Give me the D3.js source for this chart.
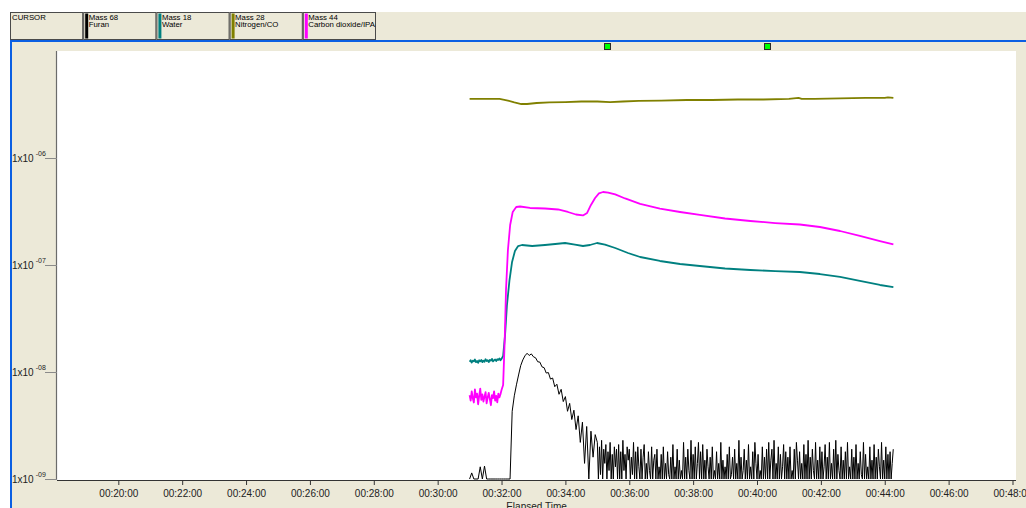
<!DOCTYPE html>
<html>
<head>
<meta charset="utf-8">
<script src="https://cdn.jsdelivr.net/npm/d3@7"></script>
<style>
  html, body { margin: 0; padding: 0; background: #ffffff; }
  svg { display: block; }
</style>
</head>
<body>
<svg id="chart" width="1026" height="508"></svg>
<script>
// ---- Legend / channels ----
const channelMasses = ["Mass 68", "Mass 18", "Mass 28", "Mass 44"];
const channelNames  = ["Furan", "Water", "Nitrogen/CO", "Carbon dioxide/IPA"];
const channelColors = ["#000000", "#008080", "#808000", "#ff00ff"];

// ---- Axes ----
const xTickMinutes = [20, 22, 24, 26, 28, 30, 32, 34, 36, 38, 40, 42, 44, 46, 48];
const xTickLabels  = ["00:20:00", "00:22:00", "00:24:00", "00:26:00", "00:28:00", "00:30:00", "00:32:00",
                      "00:34:00", "00:36:00", "00:38:00", "00:40:00", "00:42:00", "00:44:00", "00:46:00", "00:48:00"];
const yTickValues    = [1e-9, 1e-8, 1e-7, 1e-6];
const yTickExponents = ["-09", "-08", "-07", "-06"];

// cursor markers (elapsed minutes)
const cursorMinutes = [35.31, 40.31];

// ---- Mass 28, Nitrogen/CO (elapsed minutes, pressure) ----
const n2Minutes = [31.00, 31.50, 31.94, 32.20, 32.40, 32.62, 32.80, 33.10, 33.50, 34.00, 34.50, 35.00, 35.40,
                   35.80, 36.30, 37.00, 37.80, 38.60, 39.40, 40.20, 41.00, 41.30, 41.40, 41.80, 42.60, 43.40,
                   44.00, 44.10, 44.27];
const n2Values  = [3.59e-6, 3.59e-6, 3.59e-6, 3.47e-6, 3.33e-6, 3.22e-6, 3.22e-6, 3.29e-6, 3.33e-6, 3.36e-6,
                   3.40e-6, 3.40e-6, 3.36e-6, 3.40e-6, 3.44e-6, 3.47e-6, 3.51e-6, 3.51e-6, 3.55e-6, 3.55e-6,
                   3.59e-6, 3.67e-6, 3.59e-6, 3.59e-6, 3.63e-6, 3.67e-6, 3.67e-6, 3.71e-6, 3.67e-6];

// ---- Mass 18, Water ----
// baseline scans every 2 s from 31:00 (units of 1e-9)
const waterBaseStart = 31.00;
const waterBaseStepSec = 2;
const waterBaseE9 = [12.5, 12.9, 12.3, 12.8, 12.6, 13.1, 12.4, 12.7, 12.2, 12.9, 12.6, 13.0, 12.4, 12.8, 12.5,
                     13.2, 12.7, 12.9, 12.4, 13.0, 12.8, 13.3, 12.6, 12.9, 13.1, 12.7, 13.2, 13.0, 13.4, 12.9, 13.3];
const waterMinutes = [32.05, 32.11, 32.17, 32.25, 32.33, 32.42, 32.52, 32.64, 32.96, 33.36, 33.68, 33.99, 34.30,
                      34.55, 34.77, 34.99, 35.24, 35.56, 35.96, 36.34, 36.96, 37.59, 38.21, 39.00, 39.79, 40.57,
                      41.34, 41.97, 42.60, 43.22, 43.85, 44.27];
const waterValues  = [1.415e-8, 2.22e-8, 4.24e-8, 7.27e-8, 1.072e-7, 1.358e-7, 1.512e-7, 1.545e-7, 1.512e-7,
                      1.545e-7, 1.579e-7, 1.613e-7, 1.56e-7, 1.512e-7, 1.545e-7, 1.613e-7, 1.56e-7, 1.448e-7,
                      1.30e-7, 1.193e-7, 1.095e-7, 1.026e-7, 9.83e-8, 9.31e-8, 9.02e-8, 8.82e-8, 8.64e-8,
                      8.27e-8, 7.76e-8, 7.12e-8, 6.53e-8, 6.25e-8];

// ---- Mass 44, Carbon dioxide/IPA ----
const co2BaseStart = 31.00;
const co2BaseStepSec = 2;
const co2BaseE9 = [6.1, 5.4, 6.6, 5.7, 5.2, 6.9, 5.8, 6.3, 5.0, 6.0, 7.0, 5.5, 6.2, 5.3, 5.9, 6.5, 5.1, 5.8,
                   6.4, 5.6, 4.9, 6.1, 5.7, 6.6, 5.4, 6.0, 5.2, 6.3, 5.8, 6.2, 6.8];
const co2Minutes = [32.05, 32.10, 32.14, 32.20, 32.27, 32.35, 32.46, 32.58, 32.89, 33.36, 33.77, 34.08, 34.33,
                    34.55, 34.68, 34.80, 34.93, 35.05, 35.18, 35.34, 35.56, 35.87, 36.34, 36.96, 37.59, 38.21,
                    39.00, 39.79, 40.57, 41.34, 41.97, 42.60, 43.22, 43.85, 44.27];
const co2Values  = [7.57e-9, 2.0e-8, 5.86e-8, 1.387e-7, 2.377e-7, 3.146e-7, 3.503e-7, 3.54e-7, 3.43e-7,
                    3.39e-7, 3.32e-7, 3.146e-7, 2.98e-7, 2.92e-7, 3.08e-7, 3.66e-7, 4.25e-7, 4.69e-7, 4.84e-7,
                    4.78e-7, 4.59e-7, 4.21e-7, 3.74e-7, 3.39e-7, 3.146e-7, 2.95e-7, 2.735e-7, 2.59e-7, 2.48e-7,
                    2.403e-7, 2.277e-7, 2.089e-7, 1.876e-7, 1.684e-7, 1.562e-7];

// ---- Mass 68, Furan (units of 1e-9; readings below 1 fall under the axis range) ----
// first part: scans every 4 s from 31:00
const furanHeadStart = 31.00;
const furanHeadStepSec = 4;
const furanHeadE9 = [
  0.8, 1.14, 0.8, 0.8, 0.8, 1.30, 0.8, 1.32, 0.8, 0.8,
  0.8, 0.8, 0.8, 0.8, 0.8, 0.8, 0.8, 0.8, 0.8, 0.8,
  4.3, 6.0, 7.6, 9.4, 11.5, 13.0, 14.2, 15.0, 14.3, 14.8,
  13.9, 13.6, 12.5, 12.4, 11.2, 11.0, 9.8, 9.9, 8.6, 8.8,
  7.3, 7.7, 6.2, 6.9, 5.3, 5.9, 4.3, 5.1, 3.6, 4.4,
  2.9, 3.9, 2.2, 3.4, 1.4, 3.1, 0.9, 2.8, 1.6, 2.6
];
// noise tail: scans every 2 s from 35:00
const furanTailStart = 35.00;
const furanTailStepSec = 2;
const furanTailE9 = [
  2.2, 0.8, 2.0, 1.1, 2.3, 0.8, 1.9, 1.4, 2.1, 0.8, 1.8, 1.2, 2.2, 0.9, 1.7, 0.8, 2.0, 1.3, 1.9, 0.8,
  2.1, 1.0, 1.8, 0.8, 2.3, 1.2, 1.7, 0.8, 2.0, 1.5, 1.9, 0.8, 1.6, 1.1, 2.2, 0.8, 1.8, 0.9, 2.0, 1.3,
  0.8, 1.9, 0.8, 1.6, 2.1, 0.8, 1.4, 0.8, 1.8, 1.2, 0.8, 2.0, 0.8, 1.5, 1.7, 0.8, 1.9, 0.8, 1.3, 0.8,
  1.7, 0.8, 2.0, 0.8, 1.4, 0.8, 1.8, 1.1, 0.8, 1.6, 0.8, 2.1, 0.8, 1.3, 0.8, 1.9, 0.8, 1.5, 0.8, 1.2,
  0.8, 2.2, 0.8, 1.6, 0.8, 1.9, 1.2, 0.8, 2.3, 0.8, 1.7, 0.8, 2.0, 0.8, 1.4, 2.2, 0.8, 1.8, 0.8, 2.1,
  0.8, 1.5, 0.8, 1.9, 1.3, 0.8, 1.6, 0.8, 2.0, 0.8, 1.2, 0.8, 1.8, 0.8, 1.4, 0.8, 2.2, 0.8, 1.5, 0.8,
  1.3, 0.8, 1.7, 0.8, 2.0, 0.8, 1.1, 1.6, 0.8, 1.9, 0.8, 1.4, 0.8, 2.3, 0.8, 1.6, 0.8, 1.2, 1.9, 0.8,
  1.5, 0.8, 2.1, 0.8, 1.3, 0.8, 1.8, 0.8, 2.2, 1.4, 0.8, 1.7, 0.8, 1.2, 0.8, 2.0, 0.8, 1.6, 0.8, 1.9,
  0.8, 2.2, 0.8, 1.5, 1.9, 0.8, 2.3, 0.8, 1.4, 0.8, 2.0, 0.8, 1.7, 0.8, 1.3, 2.1, 0.8, 1.8, 0.8, 1.6,
  0.8, 2.0, 0.8, 1.2, 0.8, 1.9, 0.8, 2.2, 1.5, 0.8, 1.8, 0.8, 1.4, 0.8, 2.1, 0.8, 1.7, 0.8, 2.3, 0.8,
  1.6, 0.8, 1.9, 1.2, 0.8, 2.2, 0.8, 1.5, 0.8, 2.0, 0.8, 1.8, 0.8, 1.3, 2.1, 0.8, 1.6, 0.8, 2.2, 0.8,
  1.4, 0.8, 1.9, 0.8, 2.3, 0.8, 1.7, 1.2, 0.8, 2.0, 0.8, 1.5, 0.8, 1.8, 0.8, 2.2, 0.8, 1.3, 0.8, 1.9,
  0.8, 1.6, 0.8, 2.1, 0.8, 1.4, 0.8, 1.8, 1.1, 0.8, 2.2, 0.8, 1.7, 0.8, 1.3, 0.8, 2.0, 0.8, 1.5, 0.8,
  2.1, 0.8, 1.6, 0.8, 1.9, 1.3, 0.8, 2.2, 0.8, 1.5, 0.8, 2.0, 0.8, 1.7, 0.8, 1.8, 0.8, 1.4, 1.9
];

// ---- build point lists ----
function regularScans(start, stepSec, valsE9) {
  return valsE9.map((v, i) => ({ t: start + i * stepSec / 60, v: v * 1e-9 }));
}
function pairs(ts, vs) { return ts.map((t, i) => ({ t, v: vs[i] })); }

const series = [
  { color: channelColors[2], width: 1.8, pts: pairs(n2Minutes, n2Values) },
  { color: channelColors[1], width: 1.8,
    pts: regularScans(waterBaseStart, waterBaseStepSec, waterBaseE9).concat(pairs(waterMinutes, waterValues)) },
  { color: channelColors[3], width: 1.8,
    pts: regularScans(co2BaseStart, co2BaseStepSec, co2BaseE9).concat(pairs(co2Minutes, co2Values)) },
  { color: channelColors[0], width: 1,
    pts: regularScans(furanHeadStart, furanHeadStepSec, furanHeadE9)
           .concat(regularScans(furanTailStart, furanTailStepSec, furanTailE9)) }
];

// ---- drawing ----
const svg = d3.select("#chart");
const W = 1026, H = 508;
const plot = { left: 57, right: 1016, top: 51, bottom: 480 };
const panelBg = "#ece9d8";
const winBlue = "#0b5fe3";
const font = "'Liberation Sans', Arial, sans-serif";

svg.append("rect").attr("width", W).attr("height", H).attr("fill", "#ffffff");
svg.append("rect").attr("x", 10).attr("y", 12).attr("width", W - 10).attr("height", H - 12).attr("fill", panelBg);

// legend strip
const boxW = 73.2, boxX0 = 10.5, boxY = 12.5, boxH = 27;
const legendItems = [{ mass: "CURSOR", name: "", color: null }]
  .concat(channelMasses.map((m, i) => ({ mass: m, name: channelNames[i], color: channelColors[i] })));
const lg = svg.append("g");
legendItems.forEach((d, i) => {
  const bx = boxX0 + i * boxW;
  lg.append("rect").attr("x", bx).attr("y", boxY).attr("width", boxW - 1).attr("height", boxH)
    .attr("fill", panelBg).attr("stroke", "#4a4a4a").attr("stroke-width", 1);
  let tx = bx + 1.5;
  if (d.color) {
    lg.append("rect").attr("x", bx + 1.5).attr("y", boxY + 1).attr("width", 3).attr("height", boxH - 2)
      .attr("fill", d.color);
    tx = bx + 5;
  }
  lg.append("text").attr("x", tx).attr("y", 19.8).attr("font-family", font).attr("font-size", 7.8)
    .attr("fill", "#000").text(d.mass);
  if (d.name) {
    lg.append("text").attr("x", tx).attr("y", 27.3).attr("font-family", font).attr("font-size", 7.8)
      .attr("fill", "#000").text(d.name);
  }
});

// window frame lines
svg.append("rect").attr("x", 10).attr("y", 40).attr("width", W - 10).attr("height", 2).attr("fill", winBlue);
svg.append("rect").attr("x", 10).attr("y", 40).attr("width", 2).attr("height", H - 40).attr("fill", winBlue);

// scales
const x = d3.scaleLinear().domain([18.08, 48.11]).range([plot.left, plot.right]);
const y = d3.scaleLog().domain([1e-9, 1e-5]).range([479, 51.4]).clamp(true);

// plot area
svg.append("rect").attr("x", plot.left).attr("y", plot.top)
  .attr("width", plot.right - plot.left).attr("height", plot.bottom - plot.top).attr("fill", "#ffffff");
svg.append("line").attr("x1", plot.left - 0.5).attr("x2", plot.left - 0.5)
  .attr("y1", plot.top).attr("y2", plot.bottom).attr("stroke", "#6b6b6b").attr("stroke-width", 1.2);

// cursor markers
svg.selectAll("rect.cursor").data(cursorMinutes).enter().append("rect").attr("class", "cursor")
  .attr("x", d => Math.round(x(d)) - 3 + 0.5).attr("y", 43.5).attr("width", 6).attr("height", 6)
  .attr("fill", "#00ff00").attr("stroke", "#2a2a2a").attr("stroke-width", 1);

// series
svg.append("clipPath").attr("id", "clipPlot").append("rect")
  .attr("x", plot.left).attr("y", plot.top).attr("width", plot.right - plot.left).attr("height", plot.bottom - plot.top);
const line = d3.line().x(d => x(d.t)).y(d => y(d.v));
const lines = svg.append("g").attr("clip-path", "url(#clipPlot)");
series.forEach(s => {
  lines.append("path").datum(s.pts).attr("d", line).attr("fill", "none")
    .attr("stroke", s.color).attr("stroke-width", s.width).attr("stroke-linejoin", "round");
});

// x axis
const xAxis = d3.axisBottom(x).tickValues(xTickMinutes)
  .tickFormat((d, i) => xTickLabels[i]).tickSize(5).tickSizeOuter(0);
const gx = svg.append("g").attr("transform", `translate(0,${plot.bottom})`).call(xAxis);
gx.select(".domain").attr("stroke", "#333").attr("d", `M${plot.left},0.5H${plot.right}`);
gx.selectAll(".tick line").attr("stroke", "#333");
gx.selectAll(".tick text").attr("font-family", font).attr("font-size", 10).attr("fill", "#222").attr("dy", "0.9em");

svg.append("text").attr("x", (plot.left + plot.right) / 2).attr("y", 510).attr("text-anchor", "middle")
  .attr("font-family", font).attr("font-size", 10).attr("fill", "#222").text("Elapsed Time");

// y axis (decade labels)
const gy = svg.append("g");
yTickValues.forEach((v, i) => {
  const yy = Math.round(y(v)) + 0.5;
  gy.append("line").attr("x1", 45).attr("x2", plot.left).attr("y1", yy).attr("y2", yy)
    .attr("stroke", "#8a8a8a").attr("stroke-width", 1);
  const t = gy.append("text").attr("x", 12).attr("y", yy + 3.5).attr("font-family", font)
    .attr("font-size", 10).attr("fill", "#222");
  t.append("tspan").text("1x10");
  t.append("tspan").attr("dx", 2).attr("dy", -6).attr("font-size", 7).text(yTickExponents[i]);
});
</script>
</body>
</html>
